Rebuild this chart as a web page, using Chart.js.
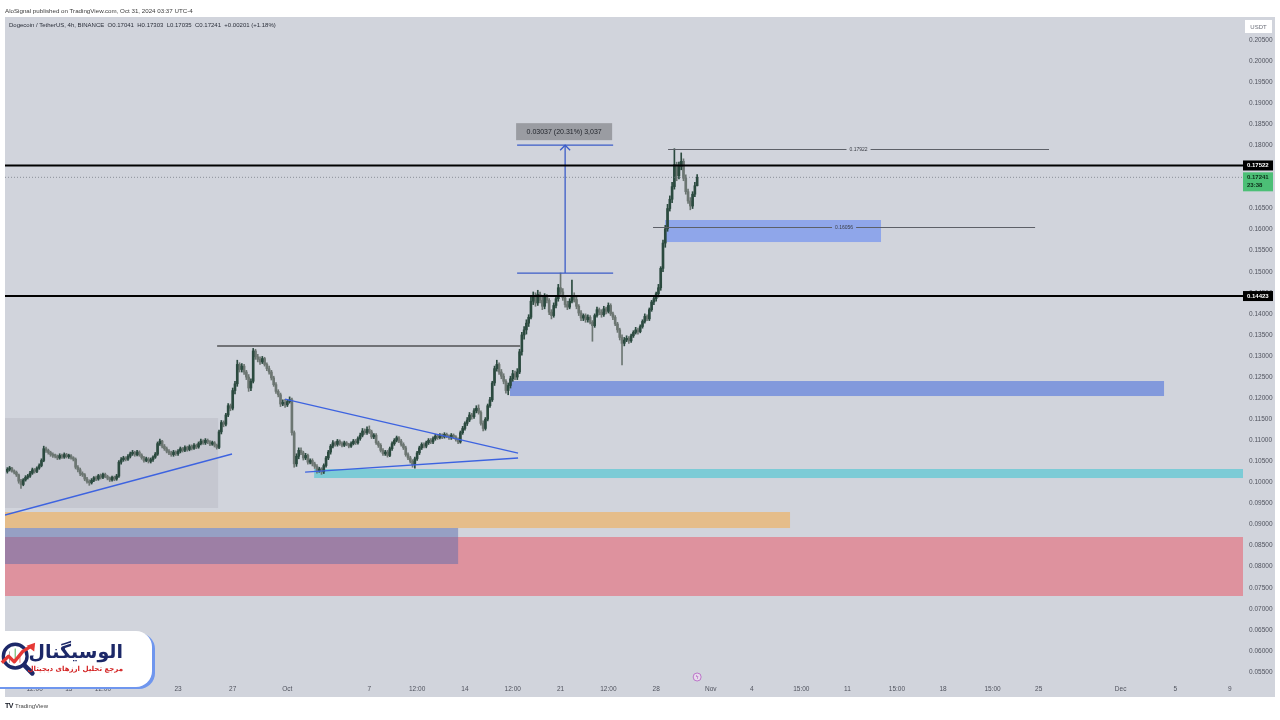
<!DOCTYPE html>
<html>
<head>
<meta charset="utf-8">
<title>Dogecoin / TetherUS, 4h</title>
<script src="https://cdn.jsdelivr.net/npm/chart.js@4.4.1/dist/chart.umd.min.js"></script>
<style>
  html, body { margin: 0; padding: 0; background: #fff; }
  #wrap { position: relative; width: 1280px; height: 720px; overflow: hidden; font-family: "Liberation Sans", Arial, sans-serif; }
  #chart { position: absolute; left: 0; top: 0; }
  .hdr { position: absolute; left: 5px; top: 7px; font-size: 6.2px; line-height: 8px; color: #3b3b3b; white-space: nowrap; }
  .sym { position: absolute; left: 9px; top: 21px; font-size: 6px; line-height: 8px; color: #2a2e39; white-space: nowrap; }
  .foot { position: absolute; left: 5px; top: 702px; font-size: 6px; line-height: 8px; color: #444; white-space: nowrap; }
  .foot b { font-size: 7px; color: #131722; letter-spacing: -0.5px; margin-right: 2px; }
  #logo { position: absolute; left: -20px; top: 631px; width: 172px; height: 56px; background: #fff; border-radius: 16px; box-shadow: 3px 2px 0 #6f96ee; }
  #logo svg { position: absolute; left: 20px; top: 9px; }
  #logo .brand { position: absolute; right: 29px; top: 9px; font: bold 19px "DejaVu Sans", sans-serif; line-height: 22px; color: #1c2868; direction: rtl; white-space: nowrap; }
  #logo .tagline { position: absolute; right: 29px; top: 34px; font: bold 7px "DejaVu Sans", sans-serif; line-height: 9px; color: #d32222; direction: rtl; white-space: nowrap; }
</style>
</head>
<body>
<div id="wrap">
  <canvas id="chart" width="1280" height="720"></canvas>
  <div class="hdr">AloSignal published on TradingView.com, Oct 31, 2024 03:37 UTC-4</div>
  <div class="sym">Dogecoin / TetherUS, 4h, BINANCE&nbsp; O0.17041&nbsp; H0.17303&nbsp; L0.17035&nbsp; C0.17241&nbsp; +0.00201 (+1.18%)</div>
  <div class="foot"><b>TV</b>TradingView</div>
  <div id="logo">
    <svg width="38" height="38" viewBox="0 0 40 40">
      <circle cx="16" cy="17" r="12.5" fill="none" stroke="#1c2868" stroke-width="3.5"/>
      <line x1="25.5" y1="26.5" x2="34" y2="35" stroke="#1c2868" stroke-width="5" stroke-linecap="round"/>
      <line x1="10" y1="12" x2="10" y2="24" stroke="#9aa3a0" stroke-width="1"/>
      <line x1="16" y1="9" x2="16" y2="20" stroke="#4caf50" stroke-width="1"/>
      <line x1="21" y1="14" x2="21" y2="24" stroke="#e57373" stroke-width="1"/>
      <polyline points="2,24 9,17 15,23 24,12 32,7" fill="none" stroke="#e53935" stroke-width="3.5" stroke-linejoin="round"/>
      <polygon points="37,3 36,12 28,6" fill="#e53935"/>
    </svg>
    <div class="brand">الوسیگنال</div>
    <div class="tagline">مرجع تحلیل ارزهای دیجیتال</div>
  </div>
</div>
<script>
// time is in days since Sep 1 2024 00:00, one candle every 4h
var firstCandleDay = 9.5;
var candleStep = 1 / 6;
var firstOpen = 0.1026;

var closes = [
  0.1031, 0.1034, 0.1027,                         // Sep 10
  0.1024, 0.1018, 0.1003, 0.0995, 0.1006, 0.1012, // Sep 11
  0.1015, 0.1022, 0.1030, 0.1026, 0.1034, 0.1040,
  0.1052, 0.1080, 0.1076, 0.1071, 0.1066, 0.1063,
  0.1062, 0.1058, 0.1064, 0.1060, 0.1066, 0.1061,
  0.1063, 0.1058, 0.1055, 0.1036, 0.1030, 0.1021, // Sep 15
  0.1018, 0.1008, 0.1002, 0.0999, 0.1005, 0.1011,
  0.1008, 0.1016, 0.1012, 0.1019, 0.1014, 0.1010,
  0.1006, 0.1012, 0.1008, 0.1015, 0.1048, 0.1054,
  0.1058, 0.1055, 0.1062, 0.1068, 0.1071, 0.1066,
  0.1072, 0.1065, 0.1059, 0.1052, 0.1056, 0.1050, // Sep 20
  0.1054, 0.1060, 0.1067, 0.1092, 0.1098, 0.1086,
  0.1080, 0.1074, 0.1070, 0.1066, 0.1072, 0.1068,
  0.1074, 0.1080, 0.1076, 0.1083, 0.1078, 0.1085,
  0.1081, 0.1088, 0.1084, 0.1092, 0.1098, 0.1094,
  0.1100, 0.1096, 0.1091, 0.1094, 0.1088, 0.1083, // Sep 25
  0.1120, 0.1142, 0.1138, 0.1160, 0.1182, 0.1176,
  0.1218, 0.1234, 0.1280, 0.1268, 0.1276, 0.1262,
  0.1250, 0.1224, 0.1240, 0.1312, 0.1298, 0.1292,
  0.1286, 0.1294, 0.1280, 0.1270, 0.1262, 0.1248,
  0.1232, 0.1216, 0.1208, 0.1186, 0.1190, 0.1184, // Sep 30
  0.1192, 0.1196, 0.1118, 0.1044, 0.1062, 0.1076, // Oct 1
  0.1070, 0.1058, 0.1064, 0.1048, 0.1052, 0.1044,
  0.1038, 0.1028, 0.1032, 0.1025, 0.1040, 0.1058,
  0.1072, 0.1086, 0.1094, 0.1090, 0.1098, 0.1092,
  0.1088, 0.1094, 0.1090, 0.1086, 0.1092, 0.1098, // Oct 5
  0.1094, 0.1104, 0.1112, 0.1122, 0.1118, 0.1126,
  0.1120, 0.1108, 0.1112, 0.1094, 0.1088, 0.1076,
  0.1068, 0.1072, 0.1064, 0.1080, 0.1092, 0.1100,
  0.1106, 0.1098, 0.1090, 0.1082, 0.1066, 0.1058,
  0.1050, 0.1042, 0.1056, 0.1070, 0.1082, 0.1090, // Oct 10
  0.1086, 0.1094, 0.1100, 0.1096, 0.1104, 0.1110,
  0.1106, 0.1112, 0.1108, 0.1114, 0.1110, 0.1106,
  0.1112, 0.1108, 0.1102, 0.1096, 0.1118, 0.1128,
  0.1140, 0.1148, 0.1160, 0.1156, 0.1170, 0.1176,
  0.1166, 0.1140, 0.1128, 0.1150, 0.1182, 0.1196, // Oct 15
  0.1236, 0.1270, 0.1280, 0.1262, 0.1252, 0.1240,
  0.1218, 0.1230, 0.1246, 0.1258, 0.1250, 0.1262,
  0.1310, 0.1350, 0.1362, 0.1378, 0.1392, 0.1430,
  0.1440, 0.1426, 0.1446, 0.1432, 0.1418, 0.1440,
  0.1432, 0.1404, 0.1396, 0.1420, 0.1436, 0.1462, // Oct 20
  0.1452, 0.1438, 0.1422, 0.1416, 0.1430, 0.1444,
  0.1434, 0.1418, 0.1402, 0.1390, 0.1396, 0.1386,
  0.1392, 0.1380, 0.1372, 0.1396, 0.1410, 0.1404,
  0.1398, 0.1412, 0.1406, 0.1420, 0.1400, 0.1392,
  0.1376, 0.1362, 0.1344, 0.1330, 0.1338, 0.1342, // Oct 25
  0.1336, 0.1348, 0.1356, 0.1362, 0.1358, 0.1370,
  0.1382, 0.1394, 0.1388, 0.1410, 0.1428, 0.1436,
  0.1448, 0.1462, 0.1508, 0.1568, 0.1602, 0.1650,
  0.1672, 0.1702, 0.1754, 0.1728, 0.1750, 0.1762,
  0.1722, 0.1690, 0.1668, 0.1656, 0.1684, 0.17041, // Oct 30
  0.17241                                          // Oct 31
];

var highs = [
  0.1035, 0.1038, 0.1036,
  0.1030, 0.1027, 0.1020, 0.1007, 0.1009, 0.1016,
  0.1019, 0.1026, 0.1034, 0.1033, 0.1037, 0.1044,
  0.1056, 0.1086, 0.1084, 0.1079, 0.1074, 0.1070,
  0.1067, 0.1065, 0.1068, 0.1067, 0.1070, 0.1069,
  0.1067, 0.1066, 0.1061, 0.1058, 0.1040, 0.1034,
  0.1025, 0.1021, 0.1012, 0.1006, 0.1009, 0.1014,
  0.1015, 0.1019, 0.1020, 0.1022, 0.1022, 0.1017,
  0.1013, 0.1015, 0.1015, 0.1019, 0.1052, 0.1059,
  0.1062, 0.1061, 0.1066, 0.1072, 0.1076, 0.1074,
  0.1076, 0.1075, 0.1068, 0.1062, 0.1060, 0.1059,
  0.1058, 0.1063, 0.1071, 0.1096, 0.1103, 0.1100,
  0.1090, 0.1084, 0.1078, 0.1074, 0.1076, 0.1075,
  0.1078, 0.1084, 0.1083, 0.1087, 0.1086, 0.1089,
  0.1089, 0.1092, 0.1091, 0.1096, 0.1103, 0.1101,
  0.1104, 0.1103, 0.1099, 0.1098, 0.1097, 0.1091,
  0.1124, 0.1147, 0.1146, 0.1164, 0.1187, 0.1186,
  0.1224, 0.1240, 0.1290, 0.1284, 0.1282, 0.1280,
  0.1266, 0.1256, 0.1246, 0.1318, 0.1316, 0.1304,
  0.1298, 0.1299, 0.1297, 0.1284, 0.1276, 0.1266,
  0.1252, 0.1237, 0.1220, 0.1212, 0.1196, 0.1197,
  0.1197, 0.1203, 0.1200, 0.1122, 0.1068, 0.1082,
  0.1082, 0.1074, 0.1069, 0.1067, 0.1056, 0.1056,
  0.1048, 0.1042, 0.1036, 0.1035, 0.1044, 0.1062,
  0.1076, 0.1090, 0.1099, 0.1097, 0.1102, 0.1101,
  0.1096, 0.1098, 0.1097, 0.1093, 0.1096, 0.1102,
  0.1102, 0.1108, 0.1117, 0.1128, 0.1127, 0.1132,
  0.1134, 0.1124, 0.1116, 0.1116, 0.1098, 0.1092,
  0.1080, 0.1076, 0.1076, 0.1084, 0.1096, 0.1104,
  0.1110, 0.1109, 0.1102, 0.1094, 0.1086, 0.1070,
  0.1062, 0.1054, 0.1060, 0.1074, 0.1086, 0.1094,
  0.1094, 0.1098, 0.1104, 0.1104, 0.1108, 0.1114,
  0.1114, 0.1116, 0.1115, 0.1118, 0.1117, 0.1113,
  0.1116, 0.1115, 0.1111, 0.1106, 0.1122, 0.1133,
  0.1144, 0.1154, 0.1166, 0.1164, 0.1175, 0.1182,
  0.1184, 0.1170, 0.1146, 0.1154, 0.1186, 0.1202,
  0.1240, 0.1276, 0.1290, 0.1284, 0.1268, 0.1258,
  0.1244, 0.1236, 0.1252, 0.1266, 0.1264, 0.1270,
  0.1316, 0.1356, 0.1370, 0.1386, 0.1398, 0.1440,
  0.1452, 0.1450, 0.1456, 0.1452, 0.1440, 0.1448,
  0.1446, 0.1436, 0.1410, 0.1426, 0.1442, 0.1470,
  0.1497, 0.1460, 0.1444, 0.1430, 0.1436, 0.1480,
  0.1450, 0.1440, 0.1422, 0.1408, 0.1400, 0.1400,
  0.1398, 0.1396, 0.1384, 0.1400, 0.1416, 0.1414,
  0.1410, 0.1418, 0.1416, 0.1426, 0.1424, 0.1404,
  0.1396, 0.1380, 0.1366, 0.1350, 0.1344, 0.1348,
  0.1346, 0.1352, 0.1360, 0.1368, 0.1366, 0.1374,
  0.1386, 0.1400, 0.1398, 0.1414, 0.1432, 0.1442,
  0.1452, 0.1470, 0.1512, 0.1575, 0.1610, 0.1660,
  0.1680, 0.1712, 0.1792, 0.1760, 0.1760, 0.1782,
  0.1768, 0.1730, 0.1696, 0.1676, 0.1690, 0.1712,
  0.17303
];

var lows = [
  0.1022, 0.1027, 0.1024,
  0.1020, 0.1014, 0.0998, 0.0986, 0.0992, 0.1003,
  0.1008, 0.1012, 0.1019, 0.1022, 0.1023, 0.1031,
  0.1037, 0.1049, 0.1071, 0.1067, 0.1062, 0.1059,
  0.1058, 0.1054, 0.1055, 0.1057, 0.1057, 0.1058,
  0.1057, 0.1055, 0.1051, 0.1032, 0.1025, 0.1016,
  0.1014, 0.1004, 0.0998, 0.0993, 0.0996, 0.1002,
  0.1004, 0.1005, 0.1008, 0.1009, 0.1011, 0.1006,
  0.1002, 0.1003, 0.1004, 0.1005, 0.1012, 0.1043,
  0.1050, 0.1051, 0.1052, 0.1058, 0.1064, 0.1062,
  0.1063, 0.1062, 0.1055, 0.1048, 0.1049, 0.1046,
  0.1046, 0.1050, 0.1057, 0.1064, 0.1088, 0.1082,
  0.1076, 0.1070, 0.1066, 0.1062, 0.1062, 0.1064,
  0.1064, 0.1070, 0.1072, 0.1073, 0.1074, 0.1075,
  0.1077, 0.1078, 0.1080, 0.1081, 0.1089, 0.1090,
  0.1090, 0.1092, 0.1087, 0.1088, 0.1084, 0.1079,
  0.1080, 0.1115, 0.1132, 0.1134, 0.1156, 0.1170,
  0.1172, 0.1210, 0.1228, 0.1262, 0.1262, 0.1256,
  0.1244, 0.1216, 0.1218, 0.1236, 0.1292, 0.1286,
  0.1280, 0.1282, 0.1276, 0.1265, 0.1257, 0.1243,
  0.1228, 0.1211, 0.1203, 0.1180, 0.1182, 0.1178,
  0.1180, 0.1188, 0.1112, 0.1036, 0.1038, 0.1056,
  0.1066, 0.1053, 0.1054, 0.1043, 0.1044, 0.1039,
  0.1033, 0.1022, 0.1024, 0.1019, 0.1021, 0.1036,
  0.1054, 0.1067, 0.1082, 0.1086, 0.1086, 0.1088,
  0.1084, 0.1085, 0.1087, 0.1082, 0.1083, 0.1089,
  0.1090, 0.1091, 0.1100, 0.1108, 0.1114, 0.1114,
  0.1116, 0.1104, 0.1104, 0.1090, 0.1083, 0.1072,
  0.1064, 0.1064, 0.1060, 0.1061, 0.1076, 0.1088,
  0.1096, 0.1094, 0.1086, 0.1078, 0.1062, 0.1054,
  0.1046, 0.1036, 0.1034, 0.1052, 0.1066, 0.1078,
  0.1082, 0.1082, 0.1090, 0.1092, 0.1092, 0.1100,
  0.1102, 0.1103, 0.1104, 0.1105, 0.1106, 0.1102,
  0.1102, 0.1104, 0.1098, 0.1092, 0.1093, 0.1114,
  0.1124, 0.1135, 0.1144, 0.1150, 0.1152, 0.1165,
  0.1162, 0.1136, 0.1122, 0.1124, 0.1146, 0.1178,
  0.1192, 0.1230, 0.1264, 0.1256, 0.1246, 0.1234,
  0.1212, 0.1208, 0.1224, 0.1240, 0.1244, 0.1244,
  0.1258, 0.1302, 0.1340, 0.1352, 0.1370, 0.1388,
  0.1422, 0.1418, 0.1420, 0.1426, 0.1410, 0.1412,
  0.1426, 0.1398, 0.1388, 0.1392, 0.1414, 0.1430,
  0.1446, 0.1432, 0.1416, 0.1410, 0.1412, 0.1426,
  0.1428, 0.1412, 0.1396, 0.1384, 0.1384, 0.1380,
  0.1380, 0.1376, 0.1335, 0.1368, 0.1392, 0.1398,
  0.1392, 0.1394, 0.1400, 0.1402, 0.1396, 0.1386,
  0.1372, 0.1356, 0.1338, 0.1279, 0.1324, 0.1334,
  0.1330, 0.1332, 0.1344, 0.1352, 0.1352, 0.1355,
  0.1366, 0.1378, 0.1384, 0.1384, 0.1406, 0.1422,
  0.1430, 0.1440, 0.1456, 0.1500, 0.1558, 0.1596,
  0.1644, 0.1664, 0.1696, 0.1716, 0.1720, 0.1742,
  0.1716, 0.1684, 0.1662, 0.1647, 0.1650, 0.1678,
  0.17035
];

// axes
var dayMin = 9.33, dayMax = 99.96;
var priceMin = 0.05310, priceMax = 0.21046;
var tickDays = [11.5, 14, 16.5, 22, 26, 30, 36, 39.5, 43, 46.5, 50, 53.5, 57, 61, 64, 67.625, 71, 74.625, 78, 81.625, 85, 91, 95, 99];
var tickLabels = ['12:00', '15', '12:00', '23', '27', 'Oct', '7', '12:00', '14', '12:00', '21', '12:00', '28', 'Nov', '4', '15:00', '11', '15:00', '18', '15:00', '25', 'Dec', '5', '9'];
var priceTicks = [0.055, 0.060, 0.065, 0.070, 0.075, 0.080, 0.085, 0.090, 0.095, 0.100, 0.105, 0.110, 0.115, 0.120, 0.125,
  0.130, 0.135, 0.140, 0.145, 0.150, 0.155, 0.160, 0.165, 0.170, 0.175, 0.180, 0.185, 0.190, 0.195, 0.200, 0.205];

// drawings
var levelPrices = [0.17522, 0.14423];
var currentPrice = 0.17241;
var currentCountdown = '23:38';
var prevHighPrice = 0.13237;
var prevHighDays = [24.86, 47.04];
var rayPrices = [0.17922, 0.16056];
var rayDays = [[57.87, 85.76], [56.77, 84.74]];
var trendDays = [[9.33, 25.95], [29.83, 46.89], [31.30, 46.89]];
var trendPrices = [[0.09226, 0.10674], [0.11979, 0.10697], [0.10246, 0.10579]];
var zoneDays = [[9.33, 24.93], [9.33, 66.80], [9.33, 99.96], [9.33, 42.50], [31.96, 99.96], [46.30, 94.18], [57.65, 73.46]];
var zonePrices = [[0.09392, 0.11528], [0.08917, 0.09297], [0.07304, 0.08704], [0.08063, 0.08917], [0.10104, 0.10318], [0.12050, 0.12406], [0.15705, 0.16228]];
var measureDays = [46.82, 53.85];
var measurePrices = [0.14967, 0.18004];
var measureText = '0.03037 (20.31%) 3,037';
var eventDay = 60;

var PANE_BG = '#d1d4dc';
var UP = '#2b4a3f', DOWN = '#6c7672';
var ZONE_COLORS = ['rgba(150,150,160,0.2)', '#e5bd8a', '#de929e', 'rgba(92,108,172,0.5)', '#7ccbd6', '#8299dc', '#8fa6ea'];
var TREND_COLOR = '#3d63e0';
var MEASURE_COLOR = '#3b5cc8';
var FONT = '"Liberation Sans", Arial, sans-serif';

var wickUp = [], wickDown = [], bodyUp = [], bodyDown = [];
var prev = firstOpen;
for (var i = 0; i < closes.length; i++) {
  var d = firstCandleDay + i * candleStep;
  var o = prev, c = closes[i];
  var up = c >= o;
  (up ? wickUp : wickDown).push({ x: d, y: [lows[i], highs[i]] });
  (up ? bodyUp : bodyDown).push({ x: d, y: [Math.min(o, c), Math.max(o, c)] });
  prev = c;
}

function seg(x1, y1, x2, y2, color, width, dash) {
  return {
    type: 'line',
    data: [{ x: x1, y: y1 }, { x: x2, y: y2 }],
    borderColor: color,
    borderWidth: width,
    borderDash: dash || [],
    pointRadius: 0,
    tension: 0,
    order: 0
  };
}

var lineSets = [];
levelPrices.forEach(function (p) {
  lineSets.push(seg(dayMin, p, dayMax, p, '#000000', 2));
});
lineSets.push(seg(dayMin, currentPrice, dayMax, currentPrice, 'rgba(110,114,125,0.7)', 1, [1, 2]));
lineSets.push(seg(prevHighDays[0], prevHighPrice, prevHighDays[1], prevHighPrice, '#111111', 1));
trendDays.forEach(function (td, k) {
  lineSets.push(seg(td[0], trendPrices[k][0], td[1], trendPrices[k][1], TREND_COLOR, 1.3));
});
var midDay = (measureDays[0] + measureDays[1]) / 2;
lineSets.push(seg(measureDays[0], measurePrices[0], measureDays[1], measurePrices[0], MEASURE_COLOR, 1.3));
lineSets.push(seg(measureDays[0], measurePrices[1], measureDays[1], measurePrices[1], MEASURE_COLOR, 1.3));
lineSets.push(seg(midDay, measurePrices[0], midDay, measurePrices[1], MEASURE_COLOR, 1.3));

var candleSets = [
  { type: 'bar', data: wickUp, backgroundColor: UP, barThickness: 1, grouped: false, order: 3 },
  { type: 'bar', data: wickDown, backgroundColor: DOWN, barThickness: 1, grouped: false, order: 3 },
  { type: 'bar', data: bodyUp, backgroundColor: UP, barThickness: 2, minBarLength: 1.5, grouped: false, order: 2 },
  { type: 'bar', data: bodyDown, backgroundColor: DOWN, barThickness: 2, minBarLength: 1.5, grouped: false, order: 2 }
];

function tag(ctx, y, h, bg, lines, color) {
  ctx.fillStyle = bg;
  ctx.fillRect(1243, y - 5, 30, h);
  ctx.fillStyle = color;
  ctx.font = 'bold 6px ' + FONT;
  ctx.textAlign = 'left';
  ctx.textBaseline = 'middle';
  lines.forEach(function (t, k) { ctx.fillText(t, 1247, y + k * 8); });
}

var tvOverlay = {
  id: 'tvOverlay',
  beforeDraw: function (chart) {
    var ctx = chart.ctx;
    ctx.save();
    ctx.fillStyle = PANE_BG;
    ctx.fillRect(5, 17, 1270, 680);
    ctx.restore();
  },
  beforeDatasetsDraw: function (chart) {
    var ctx = chart.ctx, xs = chart.scales.x, ys = chart.scales.y, a = chart.chartArea;
    ctx.save();
    ctx.beginPath();
    ctx.rect(a.left, a.top, a.right - a.left, a.bottom - a.top);
    ctx.clip();
    for (var k = 0; k < zoneDays.length; k++) {
      var x1 = xs.getPixelForValue(zoneDays[k][0]), x2 = xs.getPixelForValue(zoneDays[k][1]);
      var y1 = ys.getPixelForValue(zonePrices[k][1]), y2 = ys.getPixelForValue(zonePrices[k][0]);
      ctx.fillStyle = ZONE_COLORS[k];
      ctx.fillRect(x1, y1, x2 - x1, y2 - y1);
    }
    ctx.restore();
  },
  afterDatasetsDraw: function (chart) {
    var ctx = chart.ctx, xs = chart.scales.x, ys = chart.scales.y;
    ctx.save();
    // price rays with their value written in a gap of the line
    ctx.font = '5px ' + FONT;
    ctx.textAlign = 'center';
    ctx.textBaseline = 'middle';
    rayPrices.forEach(function (p, k) {
      var x1 = xs.getPixelForValue(rayDays[k][0]), x2 = xs.getPixelForValue(rayDays[k][1]);
      var y = Math.round(ys.getPixelForValue(p)) + 0.5;
      var txt = p.toFixed(5);
      var mid = (x1 + x2) / 2, half = ctx.measureText(txt).width / 2 + 3;
      ctx.strokeStyle = '#5d6068';
      ctx.lineWidth = 1;
      ctx.beginPath();
      ctx.moveTo(x1, y); ctx.lineTo(mid - half, y);
      ctx.moveTo(mid + half, y); ctx.lineTo(x2, y);
      ctx.stroke();
      ctx.fillStyle = '#3a3d45';
      ctx.fillText(txt, mid, y);
    });
    // measure arrow head and label
    var mx = xs.getPixelForValue(midDay);
    var top = ys.getPixelForValue(measurePrices[1]);
    var left = xs.getPixelForValue(measureDays[0]), right = xs.getPixelForValue(measureDays[1]);
    ctx.strokeStyle = MEASURE_COLOR;
    ctx.lineWidth = 1.3;
    ctx.beginPath();
    ctx.moveTo(mx - 5, top + 5); ctx.lineTo(mx, top); ctx.lineTo(mx + 5, top + 5);
    ctx.stroke();
    ctx.fillStyle = '#9a9ca2';
    ctx.fillRect(left - 1, top - 22, right - left, 17);
    ctx.fillStyle = '#22252c';
    ctx.font = '7px ' + FONT;
    ctx.fillText(measureText, (left + right) / 2 - 1, top - 13.5);
    // event marker on the time line
    var ex = xs.getPixelForValue(eventDay);
    ctx.beginPath();
    ctx.arc(ex, 677, 4, 0, Math.PI * 2);
    ctx.fillStyle = '#e6dcec';
    ctx.fill();
    ctx.strokeStyle = '#b45cc2';
    ctx.lineWidth = 0.8;
    ctx.stroke();
    ctx.fillStyle = '#b45cc2';
    ctx.font = 'bold 5px ' + FONT;
    ctx.fillText('ϟ', ex, 677.5);
    ctx.restore();
  },
  afterDraw: function (chart) {
    var ctx = chart.ctx, ys = chart.scales.y;
    ctx.save();
    // currency box
    ctx.fillStyle = '#ffffff';
    ctx.fillRect(1245, 20, 27, 13);
    ctx.fillStyle = '#6a6d78';
    ctx.font = '6px ' + FONT;
    ctx.textAlign = 'center';
    ctx.textBaseline = 'middle';
    ctx.fillText('USDT', 1258.5, 27);
    levelPrices.forEach(function (p) {
      tag(ctx, ys.getPixelForValue(p), 10, '#000000', [p.toFixed(5)], '#ffffff');
    });
    tag(ctx, ys.getPixelForValue(currentPrice), 19, '#4cbf76', [currentPrice.toFixed(5), currentCountdown], '#0c2a18');
    ctx.restore();
  }
};

Chart.defaults.font.family = FONT;

new Chart(document.getElementById('chart'), {
  type: 'bar',
  data: { datasets: lineSets.concat(candleSets) },
  plugins: [tvOverlay],
  options: {
    responsive: false,
    animation: false,
    events: [],
    layout: { padding: { left: 5, right: 5, top: 17, bottom: 23 } },
    plugins: { legend: { display: false }, tooltip: { enabled: false } },
    scales: {
      x: {
        type: 'linear',
        min: dayMin,
        max: dayMax,
        offset: false,
        grid: { display: false, drawTicks: false },
        border: { display: false },
        afterBuildTicks: function (scale) {
          scale.ticks = tickDays.map(function (v) { return { value: v }; });
        },
        afterFit: function (scale) { scale.height = 17; },
        ticks: {
          autoSkip: false,
          maxRotation: 0,
          padding: 5,
          color: '#50535e',
          font: { size: 6.5 },
          callback: function (value, index) { return tickLabels[index]; }
        }
      },
      y: {
        type: 'linear',
        position: 'right',
        min: priceMin,
        max: priceMax,
        grid: { display: false, drawTicks: false },
        border: { display: false },
        afterBuildTicks: function (scale) {
          scale.ticks = priceTicks.map(function (v) { return { value: v }; });
        },
        afterFit: function (scale) { scale.width = 32; },
        ticks: {
          padding: 6,
          color: '#50535e',
          font: { size: 6.5 },
          callback: function (value) { return value.toFixed(5); }
        }
      }
    }
  }
});
</script>
</body>
</html>
